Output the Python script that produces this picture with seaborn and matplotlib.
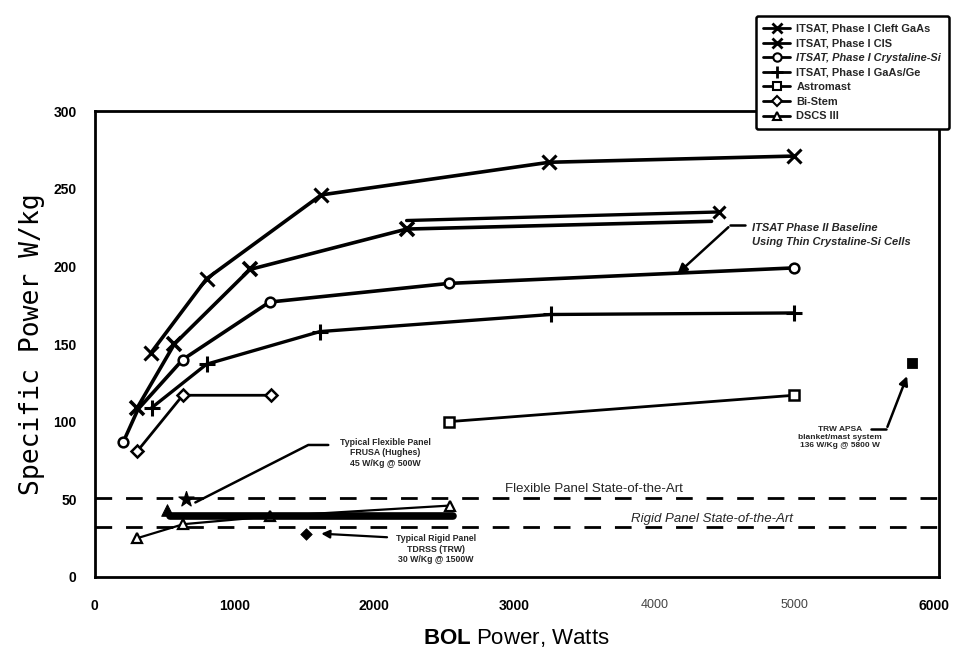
import numpy as np
import pandas as pd
import matplotlib
matplotlib.use("Agg")
import matplotlib.pyplot as plt
import seaborn as sns
from matplotlib.lines import Line2D

# ---------------- data ----------------
cleft_x = [400, 800, 1620, 3250, 5000]
cleft_y = [144, 192, 246, 267, 271]

cis_x = [305, 570, 1110, 2230, 4410]
cis_y = [109, 150, 198, 224, 229]
cis_alt_x = [2230, 4460]
cis_alt_y = [229.5, 235]

cryst_x = [205, 310, 630, 1250, 2530, 5000]
cryst_y = [87, 108, 140, 177, 189, 199]

gaas_x = [408, 800, 1610, 3260, 5000]
gaas_y = [109, 137, 158, 169, 170]

astro_x = [2530, 5000]
astro_y = [100, 117]

bistem_x = [305, 630, 1260]
bistem_y = [81, 117, 117]

dscs_x = [305, 634, 1254, 2540]
dscs_y = [25, 34, 39, 46]
dscs_bar_x = [540, 2560]
dscs_bar_y = [39, 39]
dscs_fill_x = [515]
dscs_fill_y = [43]

frusa_x = [650]
frusa_y = [50]
tdrss_x = [1510]
tdrss_y = [28]
apsa_x = [5840]
apsa_y = [138]

flex_soa = 51
rigid_soa = 32

xticks = [0, 1000, 2000, 3000, 4000, 5000, 6000]
yticks = [0, 50, 100, 150, 200, 250, 300]

legend_labels = ["ITSAT, Phase I Cleft GaAs", "ITSAT, Phase I CIS",
                 "ITSAT, Phase I Crystaline-Si", "ITSAT, Phase I GaAs/Ge",
                 "Astromast", "Bi-Stem", "DSCS III"]

# ---------------- figure ----------------
sns.set_theme(style="white")
plt.rcParams['font.family'] = ['Liberation Sans', 'DejaVu Sans']
plt.rcParams['mathtext.fontset'] = 'custom'
plt.rcParams['mathtext.bf'] = 'Liberation Sans:bold'
plt.rcParams['mathtext.rm'] = 'Liberation Sans'

fig = plt.figure(figsize=(9.57, 6.62), dpi=100)
ax = fig.add_axes([0.0989, 0.1284, 0.8823, 0.7039])
ax.set_xlim(0, 6036)
ax.set_ylim(0, 300)

K = 'black'

def line(x, y, **kw):
    kw.setdefault('mec', K)
    sns.lineplot(x=x, y=y, ax=ax, sort=False, estimator=None, color=K, **kw)

line(cleft_x, cleft_y, lw=2.6, marker='x', ms=10, mew=2.2)
line(cis_x, cis_y, lw=2.6, marker='x', ms=10, mew=2.6, markevery=[0, 1, 2, 3])
line(cis_alt_x, cis_alt_y, lw=2.4, marker='x', ms=9, mew=2.2, markevery=[1])
line(cryst_x, cryst_y, lw=2.6, marker='o', ms=7, mfc='white', mew=1.8,
     markevery=[0, 2, 3, 4, 5])
line(gaas_x, gaas_y, lw=2.4, marker='+', ms=12, mew=2.2)
line(astro_x, astro_y, lw=2.0, marker='s', ms=7, mfc='white', mew=1.8)
line(bistem_x, bistem_y, lw=2.0, marker='D', ms=6, mfc='white', mew=1.8)
line(dscs_x, dscs_y, lw=1.6, marker='^', ms=7, mfc='white', mew=1.6)
line(dscs_bar_x, dscs_bar_y, lw=5.5)

sns.scatterplot(x=dscs_fill_x, y=dscs_fill_y, ax=ax, marker='^', s=70, color=K, edgecolor=K)
sns.scatterplot(x=frusa_x, y=frusa_y, ax=ax, marker='*', s=130, color=K, edgecolor=K)
sns.scatterplot(x=tdrss_x, y=tdrss_y, ax=ax, marker='D', s=35, color=K, edgecolor=K)
sns.scatterplot(x=apsa_x, y=apsa_y, ax=ax, marker='s', s=55, color=K, edgecolor=K)

ax.axhline(flex_soa, color=K, lw=2, ls=(0, (6, 5)))
ax.axhline(rigid_soa, color=K, lw=2, ls=(0, (6, 5)))
ax.text(3570, flex_soa + 1.5, "Flexible Panel State-of-the-Art", ha='center', va='bottom',
        fontsize=9.5, bbox=dict(fc='white', ec='none', pad=0.5))
ax.text(4410, rigid_soa + 1.5, "Rigid Panel State-of-the-Art", ha='center', va='bottom',
        fontsize=9.5, style='italic', bbox=dict(fc='white', ec='none', pad=0.5))

# annotations
ax.text(4700, 220, "ITSAT Phase II Baseline\nUsing Thin Crystaline-Si Cells", ha='left',
        va='center', fontsize=8, fontweight='bold', style='italic', linespacing=1.5)
ax.plot([4650, 4545], [226.4, 226.4], color=K, lw=1.8)
ax.annotate("", xy=(4151, 194), xytext=(4545, 226.4),
            arrowprops=dict(arrowstyle='-|>', color=K, lw=1.8, mutation_scale=14))

ax.text(2080, 80, "Typical Flexible Panel\nFRUSA (Hughes)\n45 W/Kg @ 500W", ha='center',
        va='center', fontsize=6.3, fontweight='bold', linespacing=1.2)
ax.plot([1670, 1527, 720], [85, 85, 48], color=K, lw=1.8)

ax.text(2440, 18, "Typical Rigid Panel\nTDRSS (TRW)\n30 W/Kg @ 1500W", ha='center',
        va='center', fontsize=6.3, fontweight='bold', linespacing=1.2)
ax.annotate("", xy=(1600, 28), xytext=(2110, 25.5),
            arrowprops=dict(arrowstyle='-|>', color=K, lw=1.6, mutation_scale=12))

ax.text(5328, 90, "TRW APSA\nblanket/mast system\n136 W/Kg @ 5800 W", ha='center',
        va='center', fontsize=6, fontweight='bold', linespacing=1.2)
ax.plot([5552, 5660], [95, 95], color=K, lw=1.8)
ax.annotate("", xy=(5815, 131), xytext=(5660, 95),
            arrowprops=dict(arrowstyle='-|>', color=K, lw=1.8, mutation_scale=13))

# axes styling
for s in ax.spines.values():
    s.set_visible(True)
    s.set_color(K)
    s.set_linewidth(2)
ax.set_xticks(xticks)
ax.set_xticklabels([str(v) for v in xticks])
ax.set_yticks(yticks)
ax.set_yticklabels([str(v) for v in yticks])
ax.tick_params(axis='y', direction='inout', length=10, width=2, colors=K, labelsize=10, pad=8)
ax.tick_params(axis='x', length=0, colors=K, labelsize=10, pad=16)
for lab in ax.get_yticklabels():
    lab.set_fontweight('bold')
for lab in ax.get_xticklabels():
    if lab.get_text() in ('4000', '5000'):
        lab.set_fontweight('normal')
        lab.set_color('#444444')
        lab.set_fontsize(9)
    else:
        lab.set_fontweight('bold')

ax.set_xlabel(r"$\mathbf{BOL}$ Power, Watts", fontsize=16, labelpad=10, color=K)
ax.set_ylabel("Specific Power W/kg", fontsize=19, family='DejaVu Sans Mono', color=K,
              labelpad=6)
ax.grid(False)

# legend
handles = [
    Line2D([], [], color=K, lw=2, marker='x', ms=7, mew=2),
    Line2D([], [], color=K, lw=2, marker='x', ms=7, mew=2),
    Line2D([], [], color=K, lw=2, marker='o', ms=6, mfc='white', mec=K, mew=1.5),
    Line2D([], [], color=K, lw=2, marker='+', ms=9, mew=2),
    Line2D([], [], color=K, lw=2, marker='s', ms=6, mfc='white', mec=K, mew=1.5),
    Line2D([], [], color=K, lw=2, marker='D', ms=5, mfc='white', mec=K, mew=1.5),
    Line2D([], [], color=K, lw=2, marker='^', ms=6, mfc='white', mec=K, mew=1.5),
]
leg = fig.legend(handles, legend_labels, loc='upper left', bbox_to_anchor=(0.784, 0.984),
                 fontsize=7.9, frameon=True, fancybox=True, handlelength=2.4,
                 handletextpad=0.6, labelspacing=0.42, borderpad=0.7)
leg.get_frame().set_edgecolor(K)
leg.get_frame().set_linewidth(1.8)
leg.get_frame().set_facecolor('white')
leg.get_frame().set_alpha(1)
for i, t in enumerate(leg.get_texts()):
    t.set_fontweight('bold')
    if i == 2:
        t.set_style('italic')

fig.savefig("out.png", dpi=100)
